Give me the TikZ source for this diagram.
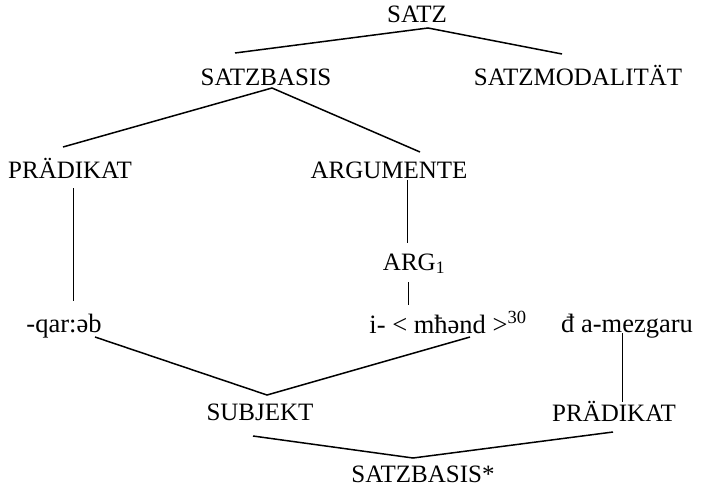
\documentclass[tikz,border=0pt]{standalone}
\usepackage{fontspec}
\setmainfont{Liberation Serif}
\begin{document}
\begin{tikzpicture}[x=1pt,y=-1pt,
  lab/.style={inner sep=0pt,anchor=base,font=\fontsize{25}{30}\selectfont},
  tr/.style={inner sep=0pt,anchor=base,font=\fontsize{26.5}{30}\selectfont},
  edge/.style={line width=1.5pt},
  vedge/.style={line width=1pt}]
\useasboundingbox (0,0) rectangle (703,487);
% nodes
\node[lab] (satz) at (417,23) {SATZ};
\node[lab] (sb) at (266,85) {SATZBASIS};
\node[lab] (sm) at (578,85) {SATZMODALITÄT};
\node[lab] (pr1) at (70,178) {PRÄDIKAT};
\node[lab] (arg) at (389,178) {ARGUMENTE};
\node[lab] (arg1) at (414,270) {ARG\textsubscript{1}};
\node[tr] (qar) at (64,332) {-qar:əb};
\node[tr] (mh) at (448,333) {i- < mħənd >\textsuperscript{30}};
\node[tr] (mez) at (627,332) {đ a-mezgaru};
\node[lab] (subj) at (260,420) {SUBJEKT};
\node[lab] (pr2) at (614,421) {PRÄDIKAT};
\node[lab] (sbs) at (423,482) {SATZBASIS*};
% connector end points
\coordinate (satz-a) at (428,28);
\coordinate (sb-t) at (235,53);
\coordinate (sm-t) at (562,54);
\coordinate (sb-a) at (272,88);
\coordinate (pr1-t) at (63,147);
\coordinate (arg-t) at (420,152);
\coordinate (pr1-b) at (73,188);
\coordinate (qar-t) at (73,301);
\coordinate (arg-b) at (407,180);
\coordinate (arg1-t) at (407,243);
\coordinate (arg1-b) at (408,282);
\coordinate (mh-t) at (408,305);
\coordinate (qar-b) at (95,337);
\coordinate (subj-t) at (267,395);
\coordinate (mh-b) at (470,337);
\coordinate (mez-b) at (622,333);
\coordinate (pr2-t) at (622,402);
\coordinate (subj-b) at (253,436);
\coordinate (sbs-t) at (413,458);
\coordinate (pr2-b) at (613,432);
% connectors
\draw[edge] (sb-t) -- (satz-a) -- (sm-t);
\draw[edge] (pr1-t) -- (sb-a) -- (arg-t);
\draw[vedge] (pr1-b) -- (qar-t);
\draw[vedge] (arg-b) -- (arg1-t);
\draw[vedge] (arg1-b) -- (mh-t);
\draw[edge] (qar-b) -- (subj-t) -- (mh-b);
\draw[vedge] (mez-b) -- (pr2-t);
\draw[edge] (subj-b) -- (sbs-t) -- (pr2-b);
\end{tikzpicture}
\end{document}
